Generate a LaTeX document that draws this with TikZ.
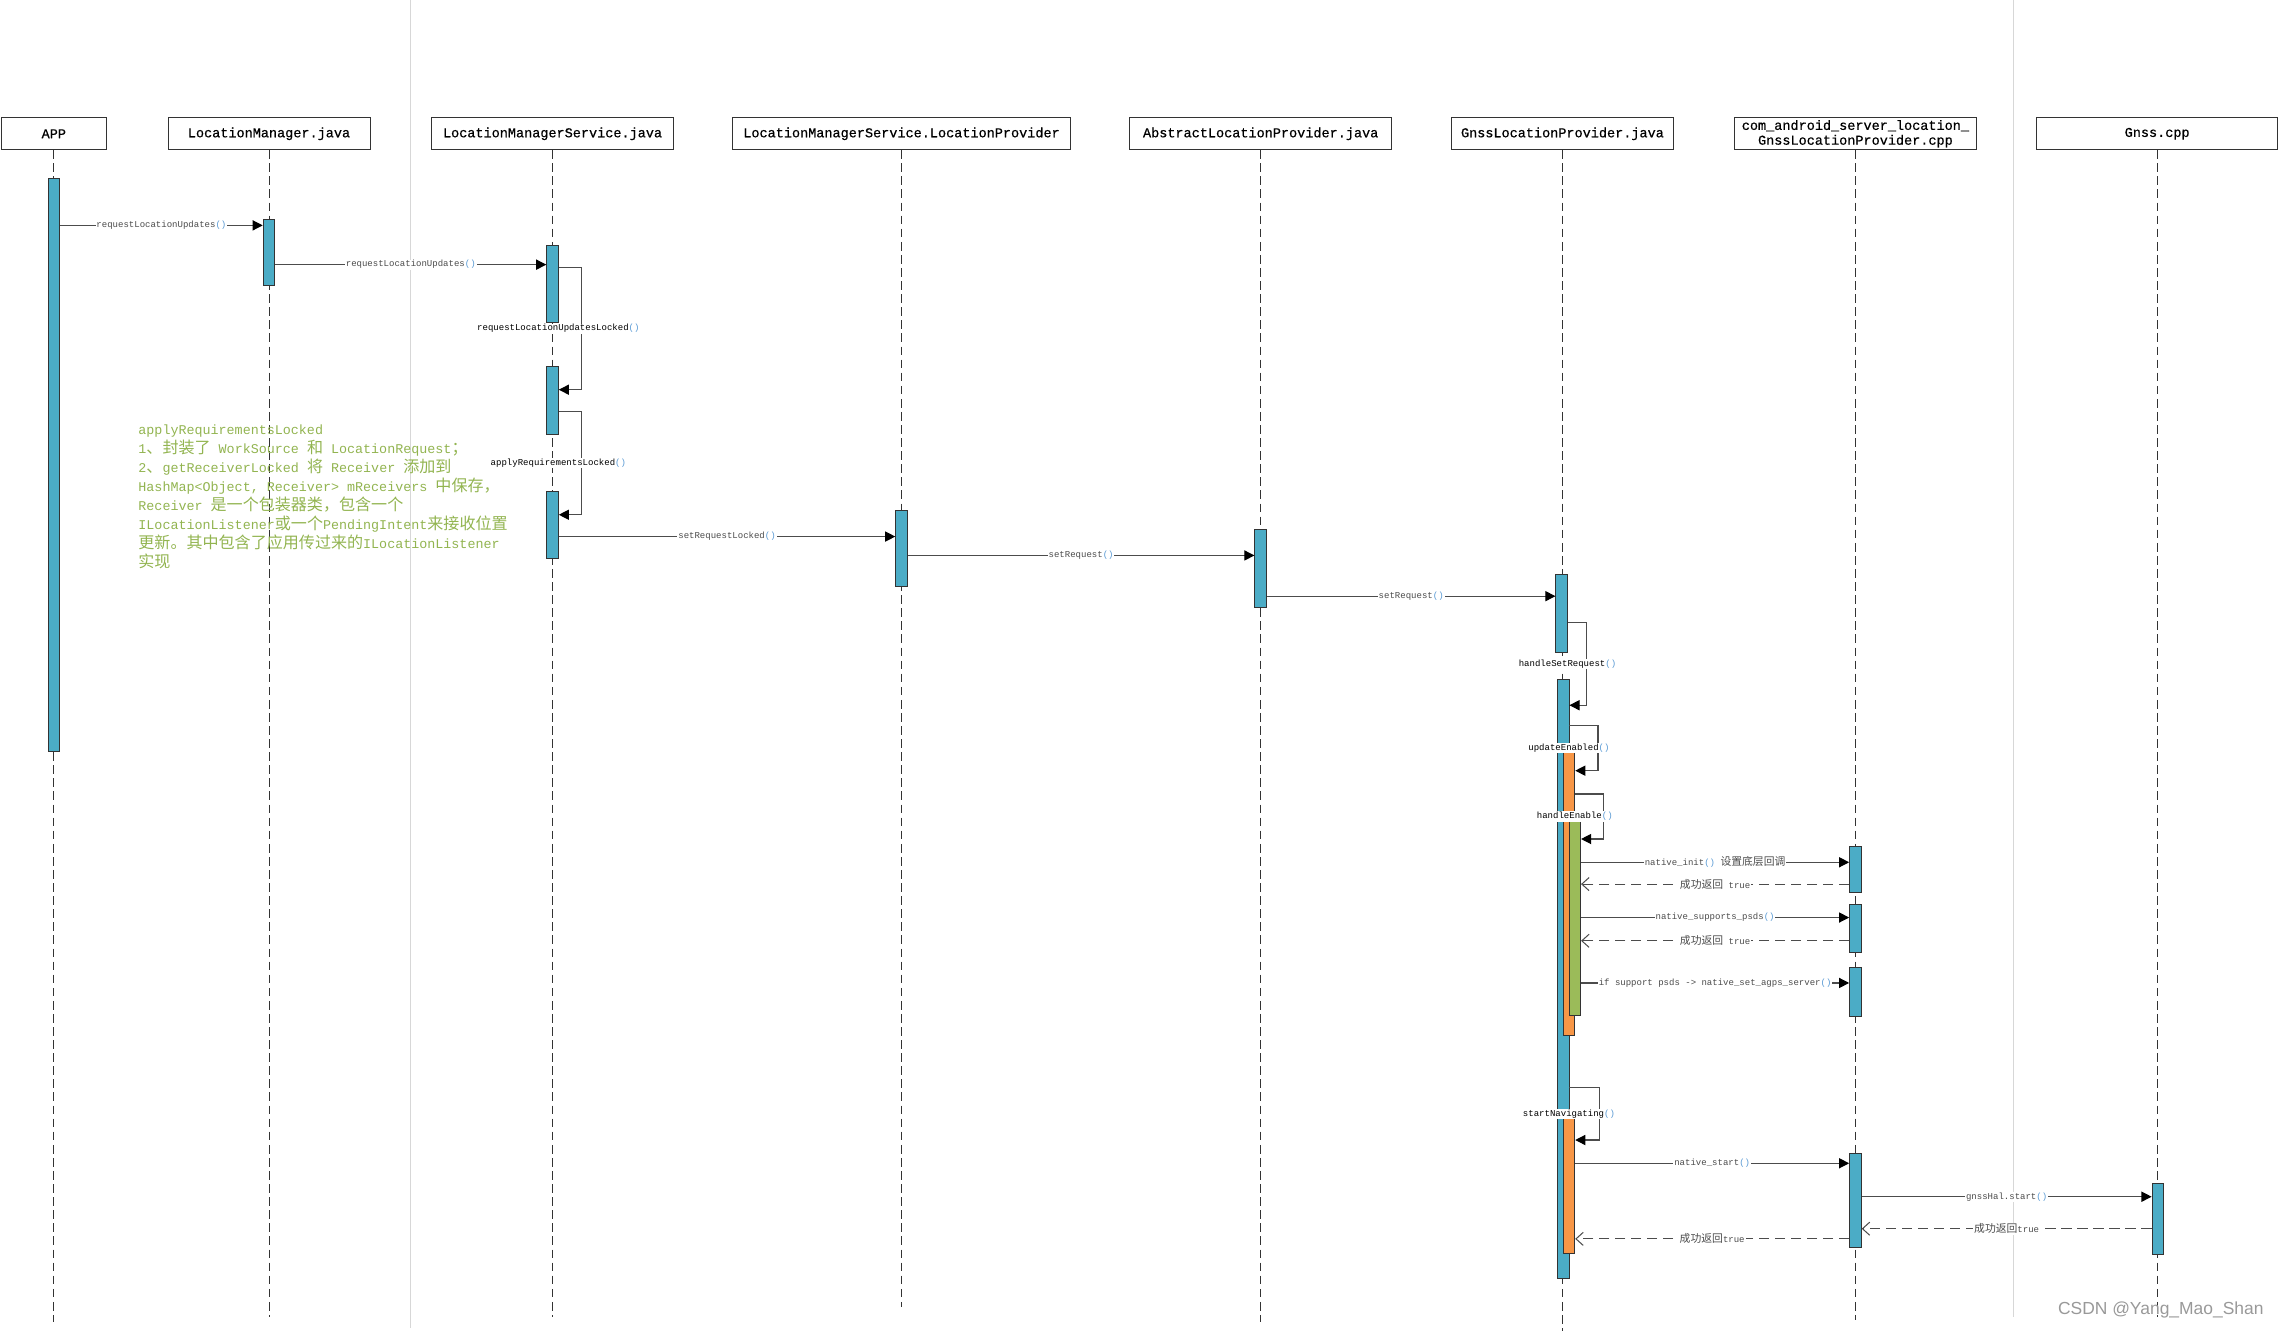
\documentclass[tikz,border=0pt]{standalone}
\usepackage{fontspec}
\setmonofont{Liberation Mono}
\newfontfamily\headfont[FakeBold=0.5]{Liberation Mono}
\newfontfamily\cjk[Scale=1.2]{Noto Sans CJK SC}
\newfontfamily\wmfont{Liberation Sans}
\usepackage{xcolor}
\usetikzlibrary{arrows.meta}

\definecolor{actblue}{RGB}{75,172,198}
\definecolor{actorange}{RGB}{247,150,70}
\definecolor{actgreen}{RGB}{155,187,89}
\definecolor{notegreen}{RGB}{146,180,80}
\definecolor{parcol}{RGB}{91,155,213}
\definecolor{sepgray}{RGB}{215,215,215}

\newcommand{\zh}[1]{{\cjk #1}}
\newcommand{\prn}{{\color{parcol}()}}

\begin{document}
\begin{tikzpicture}[x=1pt, y=-1pt,
    head/.style={draw=black!80, line width=0.6pt, minimum height=22pt, inner sep=1pt,
      align=center, font=\headfont\fontsize{9.3}{10.2}\selectfont},
    life/.style={black!80, line width=0.6pt, dash pattern=on 6pt off 3pt},
    act/.style={draw=black!80, line width=0.6pt, minimum width=8pt, inner sep=0pt},
    msg/.style={black!70, line width=0.8pt, -{Triangle[length=7pt,width=7pt,fill=black,color=black]}},
    ret/.style={black!70, line width=0.7pt, dash pattern=on 7pt off 4pt,
      -{Straight Barb[length=5pt,width=9pt]}},
    lbl/.style={fill=white, inner sep=0.6pt, font=\ttfamily\fontsize{6.2}{7}\selectfont},
    note/.style={text=notegreen, align=left, inner sep=0pt,
      font=\ttfamily\fontsize{9.2}{13.1}\selectfont},
    sep/.style={draw=sepgray, line width=0.6pt}]

    \useasboundingbox (0,0) rectangle (1568,915);

    % 1. Separators
    \draw[sep] (282,0) -- (282,913);
    \draw[sep] (1385,0) -- (1385,906);

    % 2. Headers
    \foreach \nm/\x/\w/\txt in {
        app/37/72/APP, lm/185/139/LocationManager.java,
        lms/380/166/LocationManagerService.java,
        lp/620/232/LocationManagerService.LocationProvider,
        alp/867/180/AbstractLocationProvider.java,
        glp/1074.5/153/GnssLocationProvider.java,
        jni/1276/166/{com\_android\_server\_location\_\\GnssLocationProvider.cpp},
        gnss/1483.5/166/Gnss.cpp} {
        \node[head, minimum width=\w] (\nm) at (\x,92) {\txt};
    }

    % 3. Lifelines
    \foreach \nm/\yb in {app/909, lm/906, lms/906, lp/899, alp/909, glp/915, jni/908, gnss/906} {
        \draw[life] (\nm.south) -- (\nm.south |- 0,\yb);
    }

    % 4. Activations
    \foreach \nm/\x/\ya/\yb/\col in {
        appA/37/123/517/actblue, lmA/185/151/196/actblue,
        lmsA/380/169/222/actblue, lmsB/380/252/299/actblue, lmsC/380/338/384/actblue,
        lpA/620/351/403/actblue, alpA/867/364/418/actblue,
        glpA/1074/395/449/actblue, glpB/1075/467/879/actblue,
        glpC/1079/517/712/actorange, glpD/1083/563/698/actgreen,
        glpE/1079/768/862/actorange,
        jniA/1276/582/614/actblue, jniB/1276/622/655/actblue,
        jniC/1276/665/699/actblue, jniD/1276/793/858/actblue,
        gnssA/1484/814/863/actblue} {
        \node[act, fill=\col, minimum height=\yb-\ya] (\nm) at (\x,{(\ya+\yb)/2}) {};
    }

    % 5. Calls
    \foreach \a/\b/\y/\txt [count=\i] in {
        appA/lmA/155/requestLocationUpdates\prn,
        lmA/lmsA/182/requestLocationUpdates\prn,
        lmsC/lpA/369/setRequestLocked\prn,
        lpA/alpA/382/setRequest\prn,
        alpA/glpA/410/setRequest\prn,
        glpD/jniA/593/native\_init\prn\ \zh{设置底层回调},
        glpD/jniB/631/native\_supports\_psds\prn,
        glpD/jniC/676/if support psds -> native\_set\_agps\_server\prn,
        glpE/jniD/800/native\_start\prn,
        jniD/gnssA/823/gnssHal.start\prn} {
        \draw[msg] (\a.east |- 0,\y) -- node[lbl] (call\i) {\txt} (\b.west |- 0,\y);
    }

    % 6. Returns
    \foreach \a/\b/\y/\txt [count=\i] in {
        jniA/glpD/608/{\zh{成功返回} true},
        jniB/glpD/647/{\zh{成功返回} true},
        gnssA/jniD/845/\zh{成功返回}true,
        jniD/glpE/852/\zh{成功返回}true} {
        \draw[ret] (\a.west |- 0,\y) -- node[lbl] (ret\i) {\txt} (\b.east |- 0,\y);
    }

    % 7. Self calls
    \foreach \a/\b/\ya/\yb/\xr/\txt [count=\i, evaluate=\ya as \ym using (\ya+\yb)/2] in {
        lmsA/lmsB/184/268/400/requestLocationUpdatesLocked\prn,
        lmsB/lmsC/283/354/400/applyRequirementsLocked\prn,
        glpA/glpB/428/485/1091/handleSetRequest\prn,
        glpB/glpC/499/530/1099/updateEnabled\prn,
        glpC/glpD/546/577/1103/handleEnable\prn,
        glpB/glpE/748/784/1100/startNavigating\prn} {
        \draw[msg] (\a.east |- 0,\ya) -- (\xr,\ya) -- (\xr,\yb) -- (\b.east |- 0,\yb);
        \node[lbl, xshift=4pt] (self\i) at (\a.center |- 0,\ym) {\txt};
    }

    % 8. Note
    \node[note, anchor=north west] (note) at (95,292) {applyRequirementsLocked\\
        1\zh{、封装了} WorkSource \zh{和} LocationRequest\zh{；}\\
        2\zh{、}getReceiverLocked \zh{将} Receiver \zh{添加到}\\
        HashMap<Object, Receiver> mReceivers \zh{中保存，}\\
        Receiver \zh{是一个包装器类，包含一个}\\
        ILocationListener\zh{或一个}PendingIntent\zh{来接收位置}\\
        \zh{更新。其中包含了应用传过来的}ILocationListener\\
        \zh{实现}};

    % 9. Watermark
    \node[text=black!40, font=\wmfont\fontsize{12}{12}\selectfont, inner sep=0pt] (wm) at (1486,901) {CSDN @Yang\_Mao\_Shan};

\end{tikzpicture}
\end{document}
